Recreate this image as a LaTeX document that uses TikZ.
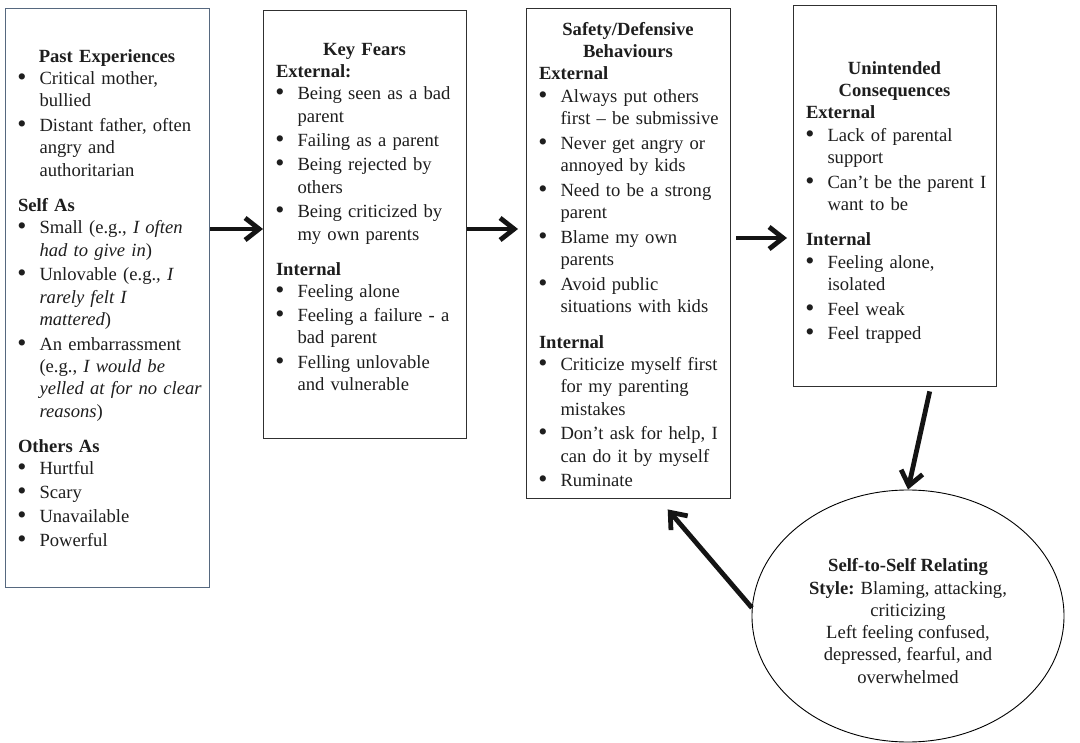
\documentclass[tikz,border=0pt]{standalone}
\usepackage{fontspec}
\setmainfont{Liberation Serif}
\usetikzlibrary{arrows.meta,shapes.geometric,calc}

\definecolor{slate}{HTML}{56687F}
\definecolor{ink}{HTML}{1E1E1E}
\definecolor{frame}{HTML}{303030}

% list helpers for the box texts
\newcommand\bul{{\fontsize{26}{22.3}\selectfont\raisebox{-1pt}{\textbullet}}}
\newcommand\ttl[1]{\par\centerline{\strut\textbf{#1}}}
\newcommand\hd[1]{\par\noindent\strut\textbf{#1}\par}
\newcommand\itm[1]{\par\noindent\hbox to 21.5pt{\hbox to 8pt{\hss\bul\hss}\hss}\begin{tabular}[t]{@{}l@{}}#1\end{tabular}\par}
\newcommand\ig{\vspace{1.5pt}}
\newcommand\sg{\vspace{12pt}}

\tikzset{
  boxframe/.style={draw=frame, line width=1.4pt, fill=white, anchor=north west, inner sep=0pt},
  txt/.style={anchor=north west, inner sep=0pt, outer sep=0pt, text=ink,
    font=\fontsize{18.6}{22.3}\selectfont},
  arr/.style={line width=4.8pt, draw=black!92, -{Straight Barb[length=14pt,width=22pt]}},
}

\begin{document}
\begin{tikzpicture}[x=1pt,y=-1pt]
\useasboundingbox (0,0) rectangle (1080,743);
\fill[white] (0,0) rectangle (1080,743);

% boxes
\node[boxframe, draw=slate, minimum width=204, minimum height=579] (b1) at (5,8) {};
\node[boxframe, minimum width=203, minimum height=428] (b2) at (263,10) {};
\node[boxframe, minimum width=204, minimum height=490] (b3) at (526,8) {};
\node[boxframe, minimum width=203, minimum height=381] (b4) at (793,5) {};
\node[ellipse, draw=black, line width=0.9pt, minimum width=312, minimum height=252, inner sep=0pt] (ell) at (908,616) {};

% box texts
\node[txt, text width=178] (t1) at (18,40) {%
  \ttl{Past Experiences}
  \itm{Critical mother,\\bullied}\ig
  \itm{Distant father, often\\angry and\\authoritarian}\sg
  \hd{Self As}
  \itm{Small (e.g., \textit{I often}\\\textit{had to give in})}\ig
  \itm{Unlovable (e.g.\textit{, I}\\\textit{rarely felt I}\\\textit{mattered})}\ig
  \itm{An embarrassment\\(e.g., \textit{I would be}\\\textit{yelled at for no clear}\\\textit{reasons})}\sg
  \hd{Others As}
  \itm{Hurtful}\ig
  \itm{Scary}\ig
  \itm{Unavailable}\ig
  \itm{Powerful}};

\node[txt, text width=177] (t2) at (276,33) {%
  \ttl{Key Fears}
  \hd{External:}
  \itm{Being seen as a bad\\parent}\ig
  \itm{Failing as a parent}\ig
  \itm{Being rejected by\\others}\ig
  \itm{Being criticized by\\my own parents}\sg
  \hd{Internal}
  \itm{Feeling alone}\ig
  \itm{Feeling a failure - a\\bad parent}\ig
  \itm{Felling unlovable\\and vulnerable}};

\node[txt, text width=178] (t3) at (539,13) {%
  \ttl{Safety/Defensive}
  \ttl{Behaviours}
  \hd{External}
  \itm{Always put others\\first -- be submissive}\ig
  \itm{Never get angry or\\annoyed by kids}\ig
  \itm{Need to be a strong\\parent}\ig
  \itm{Blame my own\\parents}\ig
  \itm{Avoid public\\situations with kids}\sg
  \hd{Internal}
  \itm{Criticize myself first\\for my parenting\\mistakes}\ig
  \itm{Don’t ask for help, I\\can do it by myself}\ig
  \itm{Ruminate}};

\node[txt, text width=177] (t4) at (806,52) {%
  \ttl{Unintended}
  \ttl{Consequences}
  \hd{External}
  \itm{Lack of parental\\support}\ig
  \itm{Can’t be the parent I\\want to be}\sg
  \hd{Internal}
  \itm{Feeling alone,\\isolated}\ig
  \itm{Feel weak}\ig
  \itm{Feel trapped}};

\node[align=center, inner sep=0pt, text=ink, font=\fontsize{18.6}{22.3}\selectfont] (et) at ($(ell.center)+(0,5)$) {%
  \textbf{Self-to-Self Relating}\\
  \textbf{Style:} Blaming, attacking,\\
  criticizing\\
  Left feeling confused,\\
  depressed, fearful, and\\
  overwhelmed};

% connectors
\coordinate (ya) at (0,229);
\coordinate (yb) at (0,238);
\draw[arr] (b1.east |- ya) -- (b2.west |- ya);
\draw[arr] (b2.east |- ya) -- ($(b3.west |- ya)+(-8,0)$);
\draw[arr] ($(b3.east |- yb)+(5,0)$) -- ($(b4.west |- yb)+(-6,0)$);
\draw[arr] ($(b4.south)+(34.5,4)$) -- (ell.north);
\draw[arr] (ell.177) -- ($(b3.south)+(39,10)$);
\end{tikzpicture}
\end{document}
